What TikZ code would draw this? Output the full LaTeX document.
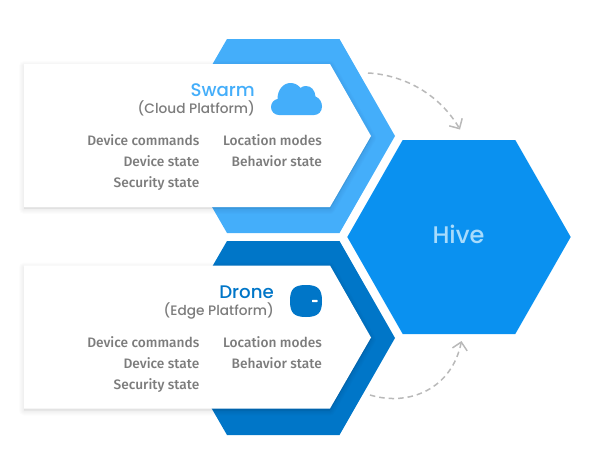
\documentclass[tikz,border=0pt]{standalone}
\usepackage{fontspec}
\setmainfont{Fira Sans}[UprightFont=* Medium]
\newfontfamily\headfont{Poppins}[UprightFont=* Medium]
\usetikzlibrary{arrows.meta}
\definecolor{swarmblue}{HTML}{44AEFA}
\definecolor{droneblue}{HTML}{0076C8}
\definecolor{hiveblue}{HTML}{0A91F0}
\definecolor{hivetext}{HTML}{A8DBFC}
\definecolor{itemgray}{HTML}{7C7C7C}
\definecolor{flowgray}{HTML}{B9B9B9}
\tikzset{
  itemtext/.style={anchor=base east,inner sep=0pt,font=\fontsize{13.7}{15}\selectfont,text=itemgray},
  titletext/.style={anchor=base east,inner sep=0pt,font=\headfont\fontsize{18.2}{20}\selectfont},
  subtext/.style={anchor=base east,inner sep=0pt,font=\headfont\fontsize{13.7}{15}\selectfont,text=itemgray},
  flow/.style={draw=flowgray,line width=1.5pt,dash pattern=on 5.5pt off 4pt,
    -{Straight Barb[length=7.5pt,width=15pt,line width=1.5pt,flowgray]}},
}
\newcommand{\panelshape}[1]{(24,#1-72) -- (330,#1-72) -- (371,#1) -- (330,#1+71) -- (24,#1+71) -- cycle}
\newcommand{\panelshadow}[1]{%
  \foreach \w in {10,8,6,4,2}{
    \draw[black,opacity=0.012,line width=\w pt,line join=round,fill=black,fill opacity=0.012,yshift=-2pt]
      \panelshape{#1};
  }
  \fill[white] \panelshape{#1};
}
\begin{document}
\begin{tikzpicture}[x=1pt,y=-1pt]
\useasboundingbox (0,0) rectangle (595,474);
% outer hexagons
\fill[swarmblue] (227,39) -- (339.5,39) -- (395,136) -- (339.5,233) -- (227,233) -- (171,136) -- cycle;
\fill[droneblue] (227,241) -- (339.5,241) -- (395,338) -- (339.5,435) -- (227,435) -- (171,338) -- cycle;
\fill[hiveblue] (402.7,140) -- (515.3,140) -- (570.7,237) -- (515.3,334) -- (402.7,334) -- (347.3,237) -- cycle;
\node[inner sep=0pt,anchor=base,font=\headfont\fontsize{24}{26}\selectfont,text=hivetext] (hive) at (458.5,243) {Hive};
% panels
\panelshadow{136}
\panelshadow{337.5}
% swarm text
\node[titletext,text=swarmblue] (swarm) at (255,96) {Swarm};
\node[subtext] (cloudplat) at (255,113.5) {(Cloud Platform)};
\node[itemtext] (a1) at (199.5,145) {Device commands};
\node[itemtext] (a2) at (199.5,166) {Device state};
\node[itemtext] (a3) at (199.5,187) {Security state};
\node[itemtext] (a4) at (322,145) {Location modes};
\node[itemtext] (a5) at (322,166) {Behavior state};
% drone text
\node[titletext,text=droneblue] (drone) at (274,298) {Drone};
\node[subtext] (edgeplat) at (274,315.5) {(Edge Platform)};
\node[itemtext] (b1) at (199.5,347) {Device commands};
\node[itemtext] (b2) at (199.5,368) {Device state};
\node[itemtext] (b3) at (199.5,389) {Security state};
\node[itemtext] (b4) at (322,347) {Location modes};
\node[itemtext] (b5) at (322,368) {Behavior state};
% cloud icon
\fill[swarmblue] (279,115) .. controls (274.5,115) and (271,111.5) .. (271,107)
  .. controls (271,103) and (274,99.5) .. (277.5,99)
  .. controls (277.5,90) and (283,83) .. (290.5,83)
  .. controls (295,83) and (298,85) .. (300.5,88)
  .. controls (302,86.5) and (304,86) .. (306,86)
  .. controls (311,86) and (315,90) .. (315.5,96.5)
  .. controls (319.5,98) and (322,102) .. (322,106.5)
  .. controls (322,111.5) and (318.5,115) .. (314,115) -- cycle;
% drone icon
\fill[droneblue] (306,285) .. controls (318,285) and (322,289) .. (322,301)
  .. controls (322,313) and (318,317) .. (306,317)
  .. controls (294,317) and (290,313) .. (290,301)
  .. controls (290,289) and (294,285) .. (306,285) -- cycle;
\fill[white,rounded corners=0.6pt] (312,299.8) rectangle (317.5,302.2);
% connectors
\coordinate (s1) at (368,73);
\coordinate (h1) at (460,129.5);
\coordinate (d1) at (370,395);
\coordinate (h2) at (461.5,341);
\path[flow] (s1) .. controls (405,75) and (440,95) .. (h1);
\path[flow] (d1) .. controls (410,407) and (452,388) .. (h2);
\end{tikzpicture}
\end{document}
